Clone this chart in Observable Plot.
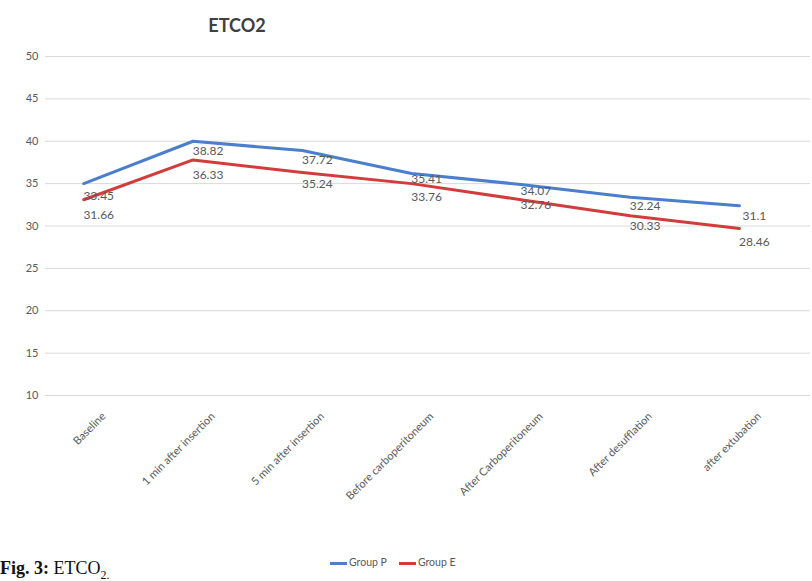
<!DOCTYPE html>
<html>
<head>
<meta charset="utf-8">
<script src="https://cdn.jsdelivr.net/npm/d3@7"></script>
<script src="https://cdn.jsdelivr.net/npm/@observablehq/plot@0.6"></script>
<style>
  html, body { margin: 0; padding: 0; background: #fff; }
  #wrap { position: relative; width: 812px; height: 581px; overflow: hidden; background: #fff; }
  #title { position: absolute; left: 0; width: 474px; top: 14px; text-align: center;
           font: bold 18px Lato, sans-serif; color: #404040; }
  #legend { position: absolute; left: 330px; top: 556px; font: 10.5px Lato, sans-serif; color: #595959;
            display: flex; gap: 12px; align-items: center; }
  #legend span.sw { display: inline-block; width: 17px; height: 3px; vertical-align: middle; margin-right: 2px; }
  #caption { position: absolute; left: 0; top: 558px; font: 18px "Liberation Serif", serif; color: #111; }
  #chart { position: absolute; left: 0; top: 0; }
</style>
</head>
<body>
<div id="wrap">
  <div id="chart"></div>
  <div id="title">ETCO2</div>
  <div id="legend"></div>
  <div id="caption"><b>Fig. 3:</b> ETCO<sub style="font-size:12px">2.</sub></div>
</div>
<script>
const categories = ["Baseline", "1 min after insertion", "5 min after insertion", "Before carboperitoneum", "After Carboperitoneum", "After desufflation", "after extubation"];
const groupP = [35.0, 40.0, 38.9, 36.2, 34.9, 33.4, 32.4];
const groupE = [33.1, 37.8, 36.3, 35.0, 33.1, 31.2, 29.7];
const labelsP = ["33.45", "38.82", "37.72", "35.41", "34.07", "32.24", "31.1"];
const labelsE = ["31.66", "36.33", "35.24", "33.76", "32.76", "30.33", "28.46"];
const yTicks = [10, 15, 20, 25, 30, 35, 40, 45, 50];
const seriesNames = ["Group P", "Group E"];
const seriesColors = ["#4b7ecb", "#d23c3c"];

const rowsP = categories.map((c, i) => ({i, value: groupP[i], label: labelsP[i], series: seriesNames[0]}));
const rowsE = categories.map((c, i) => ({i, value: groupE[i], label: labelsE[i], series: seriesNames[1]}));
const rows = rowsP.concat(rowsE);

const chart = Plot.plot({
  width: 812,
  height: 540,
  marginTop: 56,
  marginBottom: 145,
  marginLeft: 45,
  marginRight: 2,
  style: {fontFamily: "Lato, sans-serif", fontSize: "11px", color: "#595959", background: "white"},
  x: {type: "linear", domain: [-0.35, 6.65], axis: null},
  y: {domain: [10, 50], axis: null},
  color: {domain: seriesNames, range: seriesColors},
  marks: [
    Plot.ruleY(yTicks, {stroke: "#d9d9d9", strokeWidth: 1}),
    Plot.axisY({ticks: yTicks, tickSize: 0, tickPadding: 7, fontSize: 11, label: null}),
    Plot.axisX({ticks: d3.range(categories.length), tickFormat: i => categories[i], tickRotate: -45,
                tickSize: 0, tickPadding: 3, dx: 20, dy: 16, fontSize: 11, label: null}),
    Plot.line(rows, {x: "i", y: "value", z: "series", stroke: "series", strokeWidth: 3,
                     strokeLinejoin: "round", strokeLinecap: "round"}),
    Plot.text(rowsP, {x: "i", y: d => +d.label, text: "label", dx: 15, dy: -0.5, fontSize: 12, fill: "#595959"}),
    Plot.text(rowsE, {x: "i", y: d => +d.label, text: "label", dx: 15, dy: 3, fontSize: 12, fill: "#595959"})
  ]
});
document.getElementById("chart").appendChild(chart);

const legend = document.getElementById("legend");
seriesNames.forEach((s, k) => {
  const item = document.createElement("div");
  item.innerHTML = `<span class="sw" style="background:${seriesColors[k]}"></span>${s}`;
  legend.appendChild(item);
});
</script>
</body>
</html>
